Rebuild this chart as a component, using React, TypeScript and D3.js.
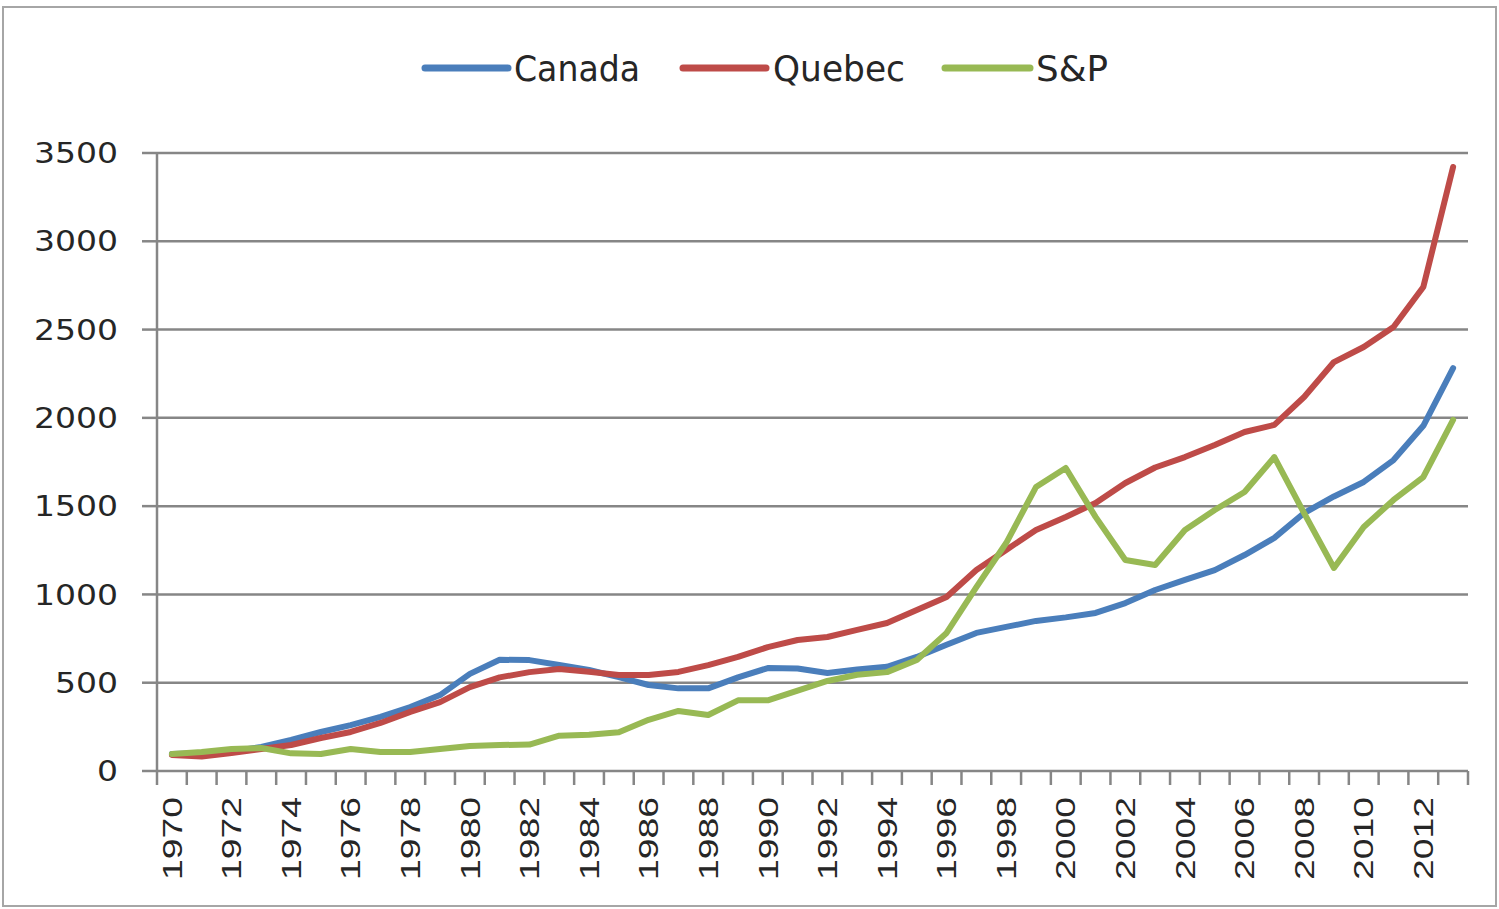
import React from "react";
import * as d3 from "d3";

const years: number[] = d3.range(1970, 2014);
const yTicks: number[] = [0, 500, 1000, 1500, 2000, 2500, 3000, 3500];

const canada: number[] = [
  96, 100, 110, 136, 176, 221, 260, 306, 362, 430, 550, 630, 628, 600, 572, 532, 487, 468, 468, 530, 583, 580,
  555, 575, 590, 646, 715, 782, 816, 850, 870, 895, 951, 1025, 1082, 1138, 1223, 1320, 1461, 1555, 1637, 1761,
  1955, 2282,
];
const quebec: number[] = [
  91, 82, 102, 125, 147, 187, 221, 272, 335, 390, 475, 530, 560, 578, 562, 544, 544, 561, 600, 646, 702, 742,
  759, 799, 838, 912, 986, 1138, 1252, 1365, 1439, 1518, 1631, 1719, 1778, 1846, 1920, 1960, 2118, 2316, 2401,
  2515, 2741, 3421,
];
const sp: number[] = [
  96, 108, 125, 130, 100, 96, 125, 108, 108, 125, 142, 147, 150, 200, 205, 220, 290, 340, 317, 400, 400, 455,
  510, 545, 560, 629, 782, 1042, 1291, 1608, 1716, 1439, 1195, 1167, 1365, 1478, 1580, 1778, 1460, 1150, 1382,
  1535, 1665, 1988,
];

const seriesNames: string[] = ["Canada", "Quebec", "S&P"];
const seriesColors: string[] = ["#4A7EBB", "#BE4B48", "#98B954"];
const seriesData: number[][] = [canada, quebec, sp];

export default function App() {
  const W = 1499;
  const H = 909;
  const left = 157;
  const right = 1468;
  const top = 153;
  const bottom = 771;

  const x = d3.scaleBand<number>().domain(years).range([left, right]).padding(0);
  const y = d3.scaleLinear().domain([0, 3500]).range([bottom, top]);

  const line = (vals: number[]) =>
    d3
      .line<number>()
      .x((_, i) => (x(years[i]) as number) + x.bandwidth() / 2)
      .y((d) => y(d))(vals) as string;

  const gridColor = "#868686";
  const legendItems = [
    { lx1: 425, lx2: 508, tx: 514, tl: 126 },
    { lx1: 683, lx2: 766, tx: 773, tl: 132 },
    { lx1: 945, lx2: 1030, tx: 1036, tl: 72 },
  ];

  return (
    <svg
      width={W}
      height={H}
      style={{ position: "absolute", left: 0, top: 0, background: "#fff" }}
    >
      <rect x={0} y={0} width={W} height={H} fill="#fff" />
      <rect x={3} y={7} width={1493} height={899} fill="none" stroke="#a6a6a6" strokeWidth={2} />

      {yTicks.map((t) => (
        <g key={t}>
          <line x1={left} x2={right} y1={y(t)} y2={y(t)} stroke={gridColor} strokeWidth={2.5} />
          <line x1={left - 15} x2={left} y1={y(t)} y2={y(t)} stroke={gridColor} strokeWidth={2.5} />
          <text
            x={118}
            y={y(t)}
            dy="0.36em"
            textAnchor="end"
            fontFamily="DejaVu Sans, Verdana, sans-serif"
            fontSize={28}
            fill="#262626"
            textLength={String(t).length * 21}
            lengthAdjust="spacingAndGlyphs"
          >
            {t}
          </text>
        </g>
      ))}

      <line x1={left} x2={left} y1={top} y2={bottom} stroke={gridColor} strokeWidth={2.5} />

      {d3.range(years.length + 1).map((i) => {
        const xx = left + i * x.bandwidth();
        return <line key={i} x1={xx} x2={xx} y1={bottom} y2={bottom + 14} stroke={gridColor} strokeWidth={2.5} />;
      })}

      {years
        .filter((yr) => (yr - 1970) % 2 === 0)
        .map((yr) => {
          const cx = (x(yr) as number) + x.bandwidth() / 2;
          return (
            <text
              key={yr}
              transform={`translate(${cx},797) rotate(-90)`}
              dy="0.36em"
              textAnchor="end"
              fontFamily="Liberation Sans, Arial, sans-serif"
              fontSize={27}
              fill="#262626"
              textLength={83}
              lengthAdjust="spacingAndGlyphs"
            >
              {yr}
            </text>
          );
        })}

      {seriesData.map((vals, si) => (
        <path
          key={si}
          d={line(vals)}
          fill="none"
          stroke={seriesColors[si]}
          strokeWidth={6}
          strokeLinejoin="round"
          strokeLinecap="round"
        />
      ))}

      {legendItems.map((it, i) => (
        <g key={i}>
          <line x1={it.lx1} x2={it.lx2} y1={68} y2={68} stroke={seriesColors[i]} strokeWidth={7} strokeLinecap="round" />
          <text
            x={it.tx}
            y={68}
            dy="0.36em"
            fontFamily="DejaVu Sans, Verdana, sans-serif"
            fontSize={35}
            fill="#262626"
            textLength={it.tl}
            lengthAdjust="spacingAndGlyphs"
          >
            {seriesNames[i]}
          </text>
        </g>
      ))}
    </svg>
  );
}
